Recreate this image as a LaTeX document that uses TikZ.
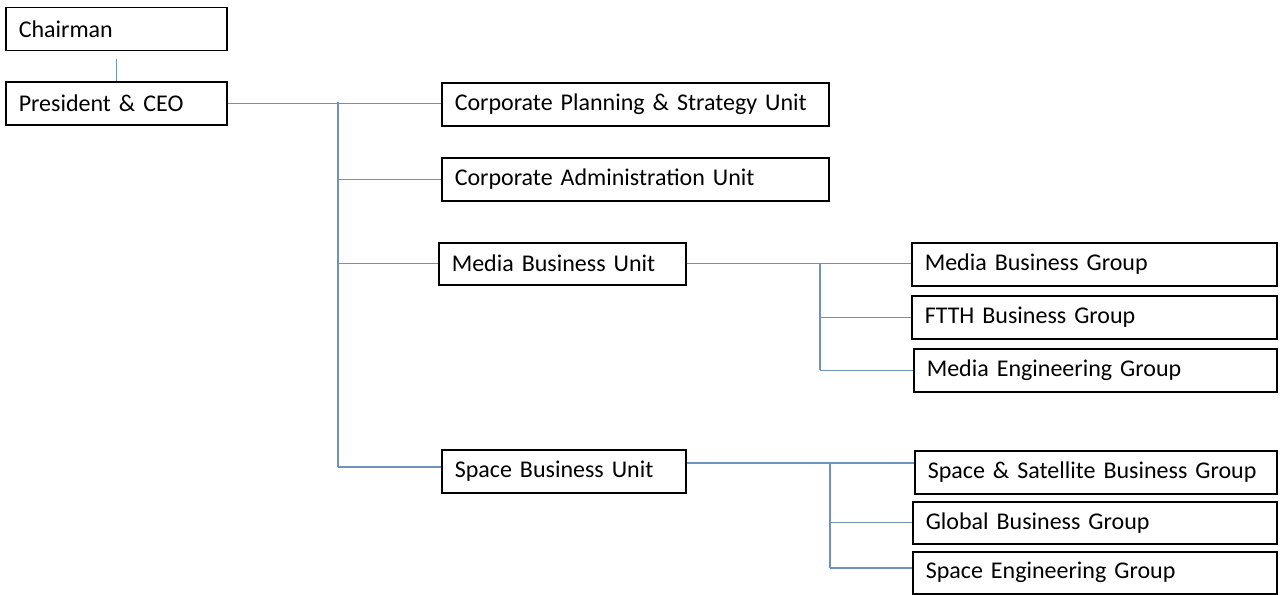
\documentclass[tikz,border=0pt]{standalone}
\usepackage{fontspec}
\setmainfont{Carlito}
\definecolor{connblue}{RGB}{112,146,190}
\tikzset{
  box/.style={draw=black, line width=1.5pt, anchor=north west, inner xsep=13pt, inner ysep=0pt,
    align=left, font=\fontsize{24}{28}\selectfont},
  conn/.style={draw=connblue, line width=1.1pt}
}
\begin{document}
\begin{tikzpicture}[x=1pt,y=-1pt]
\useasboundingbox (0,0) rectangle (1281,594);
% boxes
\node[box, text width=195pt, minimum height=43pt] (ch) at (5,7) {Chairman};
\node[box, text width=195pt, minimum height=43pt] (pr) at (5,81) {President \& CEO};
\node[box, text width=361pt, minimum height=43pt] (cp) at (441,82) {Corporate Planning \& Strategy Unit};
\node[box, text width=361pt, minimum height=43pt] (ca) at (441,157) {Corporate Administration Unit};
\node[box, text width=221pt, minimum height=42pt] (mb) at (438,242) {Media Business Unit};
\node[box, text width=218pt, minimum height=43pt] (sb) at (441,449) {Space Business Unit};
\node[box, text width=339pt, minimum height=43pt] (mbg) at (911,242) {Media Business Group};
\node[box, text width=339pt, minimum height=43pt] (ftth) at (911,295) {FTTH Business Group};
\node[box, text width=337pt, minimum height=43pt] (meg) at (913,348) {Media Engineering Group};
\node[box, text width=336pt, minimum height=43pt] (ssg) at (914,450) {Space \& Satellite Business Group};
\node[box, text width=338pt, minimum height=42pt] (gbg) at (912,501) {Global Business Group};
\node[box, text width=338pt, minimum height=42pt] (seg) at (912,551) {Space Engineering Group};
% trunk coordinates
\coordinate (tA) at (338,102);
\coordinate (tB) at (338,467);
\coordinate (mA) at (820,263);
\coordinate (mB) at (820,370);
\coordinate (sA) at (830,463);
\coordinate (sB) at (830,568);
% connectors
\draw[conn] ([yshift=-8pt]ch.south) -- (pr.north);
\draw[conn] (pr.east) -- (cp.west |- pr.east);
\draw[conn] (tA) -- (tB);
\draw[conn] (tA |- ca.west) -- (ca.west);
\draw[conn] (tA |- mb.west) -- (mb.west);
\draw[conn] (tB) -- (sb.west |- tB);
\draw[conn] (mb.east) -- (mbg.west |- mb.east);
\draw[conn] (mA) -- (mB);
\draw[conn] (mA |- ftth.west) -- (ftth.west);
\draw[conn] (mA |- meg.west) -- (meg.west);
\draw[conn] (sb.east |- sA) -- (ssg.west |- sA);
\draw[conn] (sA) -- (sB);
\draw[conn] (sA |- gbg.west) -- (gbg.west);
\draw[conn] (sB) -- (seg.west |- sB);
\end{tikzpicture}
\end{document}
